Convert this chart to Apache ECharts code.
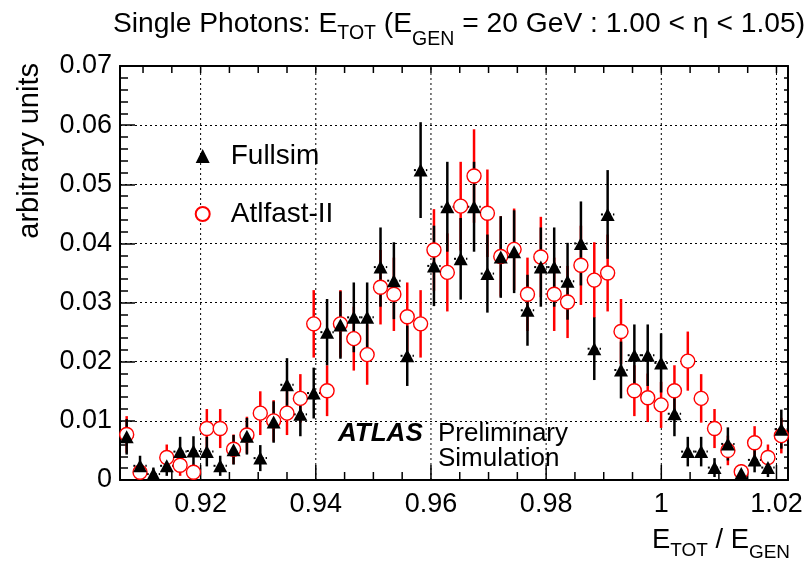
<!DOCTYPE html>
<html><head><meta charset="utf-8">
<script src="https://cdn.jsdelivr.net/npm/echarts@6/dist/echarts.min.js"></script>
<style>html,body{margin:0;padding:0;background:#fff}#c{width:809px;height:564px}</style>
</head><body><div id="c"></div>
<script>
// ---- data ----
const binCenters = [0.90716,0.90948,0.91180,0.91412,0.91644,0.91876,0.92108,0.92340,0.92572,0.92804,
  0.93036,0.93268,0.93500,0.93732,0.93964,0.94196,0.94428,0.94660,0.94892,0.95124,
  0.95356,0.95588,0.95820,0.96052,0.96284,0.96516,0.96748,0.96980,0.97212,0.97444,
  0.97676,0.97908,0.98140,0.98372,0.98604,0.98836,0.99068,0.99300,0.99532,0.99764,
  0.99996,1.00228,1.00460,1.00692,1.00924,1.01156,1.01388,1.01620,1.01852,1.02084];
const halfBin = 0.00116;
const fullsim = [0.0073,0.0024,0.0010,0.0024,0.0048,0.0049,0.0048,0.0024,0.0051,0.0074,
  0.0037,0.0098,0.0161,0.0111,0.0147,0.0250,0.0262,0.0275,0.0275,0.0360,
  0.0337,0.0210,0.0524,0.0362,0.0462,0.0374,0.0462,0.0349,0.0377,0.0386,
  0.0287,0.0360,0.0360,0.0336,0.0400,0.0222,0.0449,0.0186,0.0211,0.0211,
  0.0198,0.0112,0.0048,0.0048,0.0021,0.0061,0.0011,0.0034,0.0021,0.0086];
const fullsimErr = [0.0030,0.0017,0.0011,0.0017,0.0025,0.0025,0.0025,0.0017,0.0025,0.0031,
  0.0022,0.0035,0.0045,0.0037,0.0043,0.0056,0.0057,0.0059,0.0059,0.0067,
  0.0065,0.0051,0.0081,0.0068,0.0076,0.0069,0.0076,0.0066,0.0069,0.0070,
  0.0060,0.0067,0.0067,0.0065,0.0071,0.0053,0.0075,0.0048,0.0052,0.0052,
  0.0050,0.0038,0.0025,0.0025,0.0016,0.0028,0.0012,0.0021,0.0016,0.0033];
const atlfast = [0.0077,0.0013,null,0.0038,0.0025,0.0013,0.0087,0.0087,0.0052,0.0076,
  0.0113,0.0100,0.0113,0.0138,0.0264,0.0151,0.0264,0.0239,0.0212,0.0326,
  0.0314,0.0276,0.0264,0.0389,0.0351,0.0463,0.0514,0.0451,0.0378,0.0390,
  0.0314,0.0377,0.0314,0.0301,0.0363,0.0338,0.0350,0.0251,0.0151,0.0139,
  0.0127,0.0151,0.0201,0.0138,0.0087,0.0050,0.0014,0.0063,0.0038,0.0075];
const atlfastErr = [0.0031,0.0013,null,0.0022,0.0018,0.0013,0.0033,0.0033,0.0025,0.0031,
  0.0037,0.0035,0.0037,0.0041,0.0057,0.0043,0.0057,0.0054,0.0051,0.0063,
  0.0062,0.0058,0.0057,0.0069,0.0066,0.0075,0.0079,0.0074,0.0068,0.0069,
  0.0062,0.0068,0.0062,0.0061,0.0067,0.0064,0.0065,0.0055,0.0043,0.0041,
  0.0039,0.0043,0.0050,0.0041,0.0033,0.0025,0.0013,0.0028,0.0022,0.0030];
const xTickLabels = [0.92,0.94,0.96,0.98,1.00,1.02];
const yTickLabels = [0,0.01,0.02,0.03,0.04,0.05,0.06,0.07];
const xMin = 0.906, xMax = 1.022, yMin = 0, yMax = 0.07;

// ---- helpers ----
const FONT = '"Liberation Sans", Arial, Helvetica, sans-serif';
const xMinorTicks = [];
for (let k = 182; k <= 204; k++) { const v = +(k * 0.005).toFixed(3); if (v > xMin && v < xMax && !xTickLabels.some(m => Math.abs(m - v) < 1e-6)) xMinorTicks.push(v); }
const tickData = xTickLabels.map(v => [v, 1]).concat(xMinorTicks.map(v => [v, 0]));

const ctx = document.createElement('canvas').getContext('2d');
function tw(t, s, w) { ctx.font = (w || 'normal') + ' ' + s + 'px ' + FONT; return ctx.measureText(t).width; }
function chain(parts, x0, yMid, alignRight, fitWidth) {
  let ws = parts.map(p => tw(p.t, p.s));
  let total = ws.reduce((a, b) => a + b, 0);
  let k = 1;
  if (fitWidth) { k = fitWidth / total; ws = ws.map(w => w * k); total = fitWidth; }
  let x = alignRight ? x0 - total : x0;
  return parts.map((p, i) => {
    const el = { type: 'text', x: x, y: yMid + p.dy * k, silent: true,
      style: { text: p.t, font: (p.s * k).toFixed(2) + 'px ' + FONT, fill: '#000', textAlign: 'left', textVerticalAlign: 'middle', align: 'left', verticalAlign: 'middle' } };
    x += ws[i]; return el;
  });
}
function txt(t, x, y, size, weight, style) {
  return { type: 'text', x: x, y: y, silent: true,
    style: { text: t, font: (style || 'normal') + ' ' + (weight || 'normal') + ' ' + size + 'px ' + FONT, fill: '#000',
      textAlign: 'left', textVerticalAlign: 'middle', align: 'left', verticalAlign: 'middle' } };
}

const titleParts = [
  { t: 'Single Photons: E', s: 26, dy: 0 }, { t: 'TOT', s: 18, dy: 9 },
  { t: ' (E', s: 26, dy: 0 }, { t: 'GEN', s: 18, dy: 14 },
  { t: ' = 20 GeV : 1.00 < \u03b7 < 1.05)', s: 26, dy: 0 }];
const xTitleParts = [
  { t: 'E', s: 26, dy: 0 }, { t: 'TOT', s: 18, dy: 10 },
  { t: ' / E', s: 26, dy: 0 }, { t: 'GEN', s: 18, dy: 12 }];

const graphics = []
  .concat(chain(titleParts, 113, 24, false, 692))
  .concat(chain(xTitleParts, 790, 540, true, 138))
  .concat([
    { type: 'text', x: 30, y: 63, rotation: Math.PI / 2, silent: true,
      style: { text: 'arbitrary units', font: '29px ' + FONT, fill: '#000', textAlign: 'right', textVerticalAlign: 'middle', align: 'right', verticalAlign: 'middle' } },
    txt('ATLAS', 338, 434, 26, 'bold', 'italic'),
    txt('Preliminary', 438, 434, 26),
    txt('Simulation', 438, 459, 26)
  ]);

const atlData = [], fullData = [], atlPts = [], fullPts = [];
binCenters.forEach((x, i) => {
  if (atlfast[i] != null) { atlData.push([x, atlfast[i], atlfastErr[i]]); atlPts.push([x, atlfast[i]]); }
  if (fullsim[i] != null) { fullData.push([x, fullsim[i], fullsimErr[i]]); fullPts.push([x, fullsim[i]]); }
});

function errRender(color, dotted) {
  return function (params, api) {
    const x = api.value(0), v = api.value(1), e = api.value(2);
    const t = api.coord([x, v + e]), b = api.coord([x, Math.max(v - e, 0)]);
    const ch = [{ type: 'line', shape: { x1: t[0], y1: t[1], x2: b[0], y2: b[1] }, style: { stroke: color, lineWidth: 2.5 } }];
    if (dotted) {
      const l = api.coord([x - halfBin, v]), r = api.coord([x + halfBin, v]);
      ch.push({ type: 'line', shape: { x1: l[0], y1: l[1], x2: r[0], y2: r[1] }, style: { stroke: color, lineWidth: 2, lineDash: [2, 2] } });
    }
    return { type: 'group', children: ch };
  };
}
function tickRender(params, api) {
  const x = api.value(0), major = api.value(1);
  const b = api.coord([x, yMin]), t = api.coord([x, yMax]);
  const ch = [];
  if (major) ch.push({ type: 'line', shape: { x1: b[0], y1: b[1], x2: t[0], y2: t[1] }, style: { stroke: '#000', lineWidth: 1, lineDash: [2, 3] } });
  const lb = major ? 15 : 8, lt = 7;
  ch.push({ type: 'line', shape: { x1: b[0], y1: b[1], x2: b[0], y2: b[1] - lb }, style: { stroke: '#000', lineWidth: 1.5 } });
  ch.push({ type: 'line', shape: { x1: t[0], y1: t[1], x2: t[0], y2: t[1] + lt }, style: { stroke: '#000', lineWidth: 1.5 } });
  return { type: 'group', children: ch };
}

const chart = echarts.init(document.getElementById('c'), null, { renderer: 'canvas' });
chart.setOption({
  animation: false,
  backgroundColor: '#fff',
  grid: { left: 120, right: 21, top: 66, bottom: 84, containLabel: false },
  xAxis: [
    { type: 'value', min: xMin, max: xMax, position: 'bottom',
      axisLine: { show: true, onZero: false, lineStyle: { color: '#000', width: 2 } },
      axisTick: { show: false }, splitLine: { show: false },
      axisLabel: { show: true, customValues: xTickLabels, margin: 11, color: '#000', fontSize: 27, fontFamily: FONT,
        formatter: v => String(+v.toFixed(2)) } },
    { type: 'value', min: xMin, max: xMax, position: 'top',
      axisLine: { show: true, onZero: false, lineStyle: { color: '#000', width: 2 } },
      axisTick: { show: false }, axisLabel: { show: false }, splitLine: { show: false } }
  ],
  yAxis: [
    { type: 'value', min: yMin, max: yMax, interval: 0.01, position: 'left',
      axisLine: { show: true, onZero: false, lineStyle: { color: '#000', width: 2 } },
      axisTick: { show: true, inside: true, length: 15, lineStyle: { color: '#000', width: 1.5 } },
      minorTick: { show: true, splitNumber: 5, length: 8, lineStyle: { color: '#000', width: 1.5 } },
      splitLine: { show: true, lineStyle: { color: '#000', width: 1, type: [2, 3] } },
      axisLabel: { color: '#000', fontSize: 27, fontFamily: FONT, margin: 8 } },
    { type: 'value', min: yMin, max: yMax, interval: 0.01, position: 'right',
      axisLine: { show: true, onZero: false, lineStyle: { color: '#000', width: 2 } },
      axisTick: { show: true, inside: true, length: 7, lineStyle: { color: '#000', width: 1.5 } },
      minorTick: { show: true, splitNumber: 5, length: 4, lineStyle: { color: '#000', width: 1.5 } },
      splitLine: { show: false }, axisLabel: { show: false } }
  ],
  legend: {
    orient: 'vertical', left: 189.7, top: 136, itemGap: 28, itemWidth: 14, itemHeight: 14,
    selectedMode: false,
    textStyle: { color: '#000', fontSize: 28, fontFamily: FONT, lineHeight: 30, padding: [0, 0, 0, 16] },
    data: [{ name: 'Fullsim', icon: 'triangle' }, { name: 'Atlfast-II', icon: 'circle' }]
  },
  graphic: graphics,
  series: [
    { type: 'custom', name: 'ticks', silent: true, renderItem: tickRender, data: tickData, xAxisIndex: 0, yAxisIndex: 0, z: 1 },
    { type: 'custom', name: 'Atlfast-II err', silent: true, clip: true, renderItem: errRender('#ff0000', false), data: atlData, z: 2 },
    { type: 'custom', name: 'Fullsim err', silent: true, clip: true, renderItem: errRender('#000000', true), data: fullData, z: 3 },
    { type: 'scatter', name: 'Atlfast-II', silent: true, symbol: 'circle', symbolSize: 14, data: atlPts, z: 4,
      itemStyle: { color: '#ffffff', borderColor: '#ff0000', borderWidth: 1.4, opacity: 1 } },
    { type: 'scatter', name: 'Fullsim', silent: true, symbol: 'triangle', symbolSize: [14, 13], data: fullPts, z: 5,
      itemStyle: { color: '#000000', opacity: 1 } }
  ]
});
</script></body></html>
